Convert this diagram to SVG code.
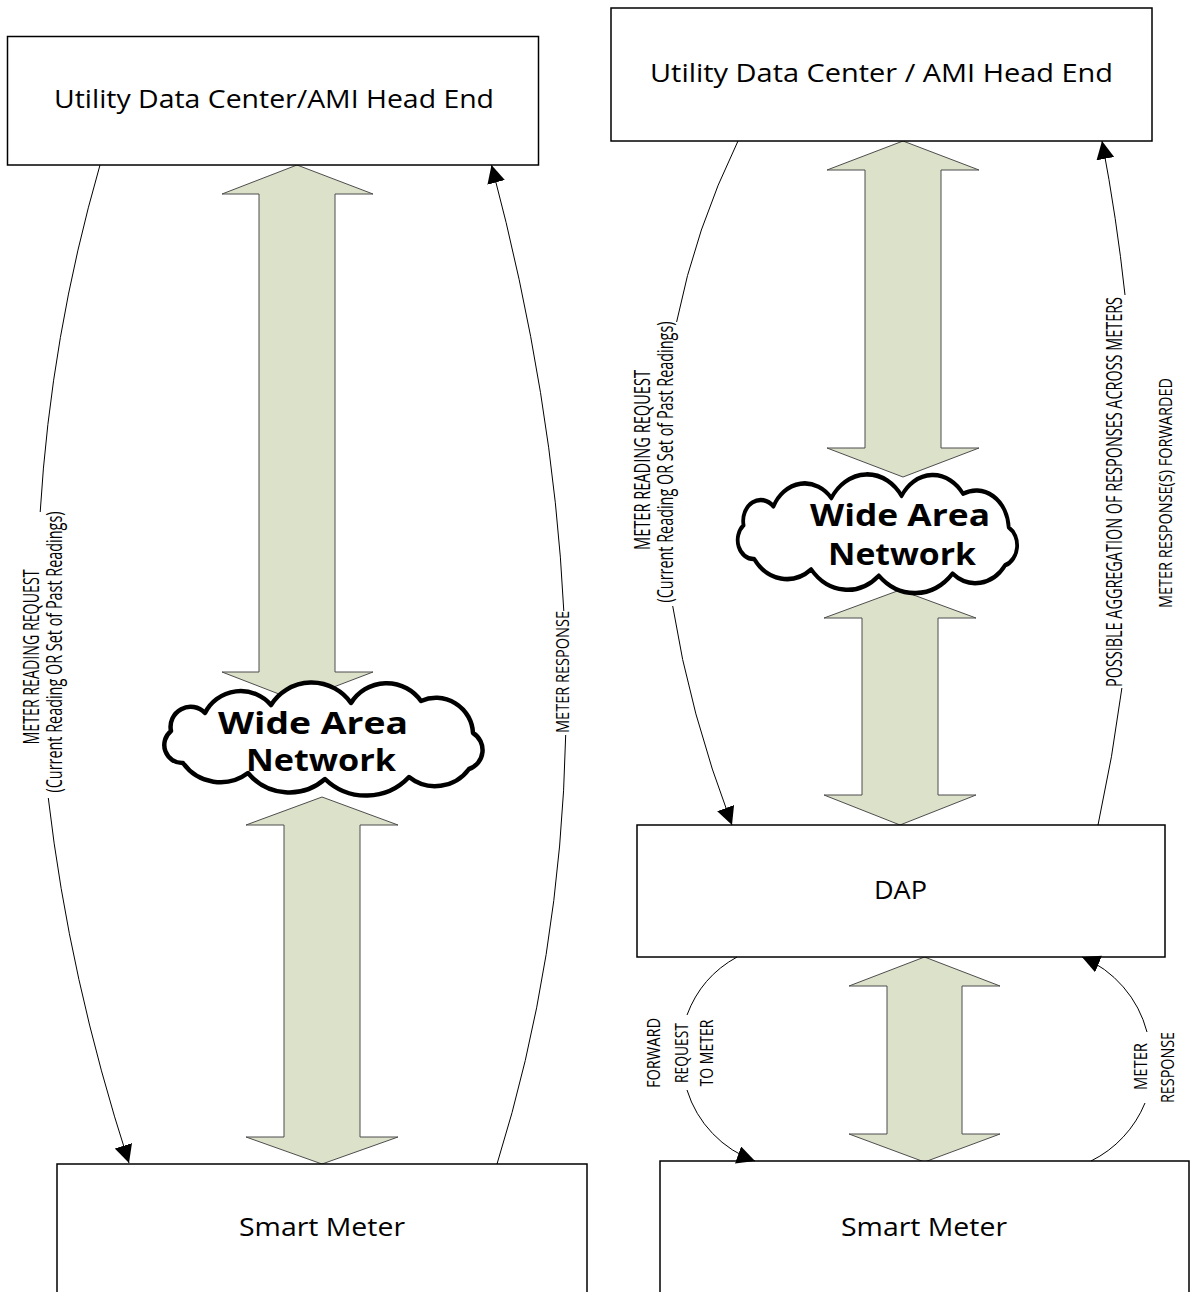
<svg xmlns="http://www.w3.org/2000/svg" width="1191" height="1292" viewBox="0 0 1191 1292">
<style>
.box{fill:#fff;stroke:#000;stroke-width:1.5}
.bt{font-family:"Open Sans","Liberation Sans",sans-serif;font-size:25px;fill:#000;text-anchor:middle}
.big{fill:#DCE1CA;stroke:#4d4d4d;stroke-width:1}
.cloud{fill:#fff;stroke:#000;stroke-width:4.5;stroke-linejoin:round}
.ct{font-family:"Open Sans","Liberation Sans",sans-serif;font-weight:bold;font-size:30px;fill:#000;text-anchor:middle}
.con{fill:none;stroke:#000;stroke-width:1}
.lb{font-family:"Open Sans","Liberation Sans",sans-serif;fill:#000;text-anchor:middle}
</style>
<defs>
<marker id="ah" markerUnits="userSpaceOnUse" viewBox="0 0 18 18" markerWidth="18" markerHeight="18" refX="18" refY="9" orient="auto">
<path d="M0,0 L18,9 L0,18 Z" fill="#000"/>
</marker>
<path id="cloudShape" d="M54,28 A40,40 0 0 1 120,20 A48,48 0 0 1 200,18 A42,42 0 0 1 270,16 A37,37 0 0 1 322,48 A20,20 0 0 1 318,84 A42,42 0 0 1 258,92 A59,59 0 0 1 174,94 A54,54 0 0 1 97,88 A46,46 0 0 1 32,78 A18,18 0 0 1 20,46 A20,20 0 0 1 54,28 Z"/>
</defs>
<rect x="0" y="0" width="1191" height="1292" fill="#fff"/>

<g id="wan-arrows">
<polygon class="big" points="297,165 373,194 335,194 335,672 373,672 297,701 222,672 259,672 259,194 222,194"/>
<polygon class="big" points="322,797 398,825 360,825 360,1137 398,1137 322,1164 246,1137 284,1137 284,825 246,825"/>
<polygon class="big" points="903,141 979,170 941,170 941,448 979,448 903,477 827,448 865,448 865,170 827,170"/>
<polygon class="big" points="900,590 976,618 938,618 938,795 976,795 900,825 824,795 862,795 862,618 824,618"/>
<polygon class="big" points="924.5,957 1000,986 962,986 962,1134 1000,1134 924.5,1162 849,1134 887,1134 887,986 849,986"/>
</g>

<g id="left-headend">
<rect class="box" x="7.5" y="36.5" width="531" height="128.5"/>
<text class="bt" x="274" y="108" textLength="440" lengthAdjust="spacingAndGlyphs">Utility Data Center/AMI Head End</text>
</g>
<g id="left-wan">
<use href="#cloudShape" class="cloud" transform="translate(151,685)"/>
<text class="ct" x="313" y="734" textLength="190" lengthAdjust="spacingAndGlyphs">Wide Area</text>
<text class="ct" x="321" y="771" textLength="150" lengthAdjust="spacingAndGlyphs">Network</text>
</g>
<g id="left-meter">
<rect class="box" x="57" y="1164" width="530" height="200"/>
<text class="bt" x="322" y="1236" textLength="166" lengthAdjust="spacingAndGlyphs">Smart Meter</text>
</g>

<g id="right-headend">
<rect class="box" x="611" y="8" width="541" height="133"/>
<text class="bt" x="881.5" y="82" textLength="463" lengthAdjust="spacingAndGlyphs">Utility Data Center / AMI Head End</text>
</g>
<g id="right-wan">
<use href="#cloudShape" class="cloud" vector-effect="non-scaling-stroke" transform="translate(726,477) scale(0.878,1.05)" style="stroke-width:4.3"/>
<text class="ct" x="900" y="526" textLength="180" lengthAdjust="spacingAndGlyphs">Wide Area</text>
<text class="ct" x="902" y="565" textLength="148" lengthAdjust="spacingAndGlyphs">Network</text>
</g>
<g id="right-dap">
<rect class="box" x="637" y="825" width="528" height="132"/>
<text class="bt" x="900.5" y="899" textLength="53" lengthAdjust="spacingAndGlyphs">DAP</text>
</g>
<g id="right-meter">
<rect class="box" x="660" y="1161" width="529" height="200"/>
<text class="bt" x="924" y="1236" textLength="166" lengthAdjust="spacingAndGlyphs">Smart Meter</text>
</g>

<g id="connectors">
<path class="con" d="M100,165 Q50.7,336.2 40.2,512"/>
<path class="con" d="M48.3,798 Q69.1,978.2 129,1163" marker-end="url(#ah)"/>
<path class="con" d="M497,1164 Q560.9,959.6 565.7,735"/>
<path class="con" d="M563.8,611 Q553.3,396.7 491.5,165" marker-end="url(#ah)"/>
<path class="con" d="M738,141 Q695.4,228.5 676.6,322"/>
<path class="con" d="M672.7,606 Q689.4,712.3 732,825" marker-end="url(#ah)"/>
<path class="con" d="M1098,825 Q1112.9,757.1 1121.9,688"/>
<path class="con" d="M1125,295 Q1116.8,218.6 1102,141" marker-end="url(#ah)"/>
<path class="con" d="M737,957 A110,110 0 0 0 687,1015"/>
<path class="con" d="M687,1090 A110,110 0 0 0 755,1161" marker-end="url(#ah)"/>
<path class="con" d="M1091,1161 A112,112 0 0 0 1145,1103"/>
<path class="con" d="M1147,1032 A112,112 0 0 0 1082,957" marker-end="url(#ah)"/>
</g>

<g id="labels">
<text class="lb" font-size="22" transform="translate(39,657) rotate(-90)" textLength="175" lengthAdjust="spacingAndGlyphs">METER READING REQUEST</text>
<text class="lb" font-size="22" transform="translate(62,652) rotate(-90)" textLength="281" lengthAdjust="spacingAndGlyphs">(Current Reading OR Set of Past Readings)</text>
<text class="lb" font-size="18" transform="translate(569,672) rotate(-90)" textLength="122" lengthAdjust="spacingAndGlyphs">METER RESPONSE</text>
<text class="lb" font-size="22" transform="translate(650,460) rotate(-90)" textLength="180" lengthAdjust="spacingAndGlyphs">METER READING REQUEST</text>
<text class="lb" font-size="22" transform="translate(673,462) rotate(-90)" textLength="281" lengthAdjust="spacingAndGlyphs">(Current Reading OR Set of Past Readings)</text>
<text class="lb" font-size="21" transform="translate(1122,492) rotate(-90)" textLength="390" lengthAdjust="spacingAndGlyphs">POSSIBLE AGGREGATION OF RESPONSES ACROSS METERS</text>
<text class="lb" font-size="19" transform="translate(1172,493) rotate(-90)" textLength="230" lengthAdjust="spacingAndGlyphs">METER RESPONSE(S) FORWARDED</text>
<text class="lb" font-size="19" transform="translate(660,1053) rotate(-90)" textLength="70" lengthAdjust="spacingAndGlyphs">FORWARD</text>
<text class="lb" font-size="19" transform="translate(687.5,1053) rotate(-90)" textLength="60" lengthAdjust="spacingAndGlyphs">REQUEST</text>
<text class="lb" font-size="19" transform="translate(712.5,1053) rotate(-90)" textLength="67" lengthAdjust="spacingAndGlyphs">TO METER</text>
<text class="lb" font-size="19" transform="translate(1147,1066.5) rotate(-90)" textLength="47" lengthAdjust="spacingAndGlyphs">METER</text>
<text class="lb" font-size="19" transform="translate(1174,1067.5) rotate(-90)" textLength="71" lengthAdjust="spacingAndGlyphs">RESPONSE</text>
</g>
</svg>
